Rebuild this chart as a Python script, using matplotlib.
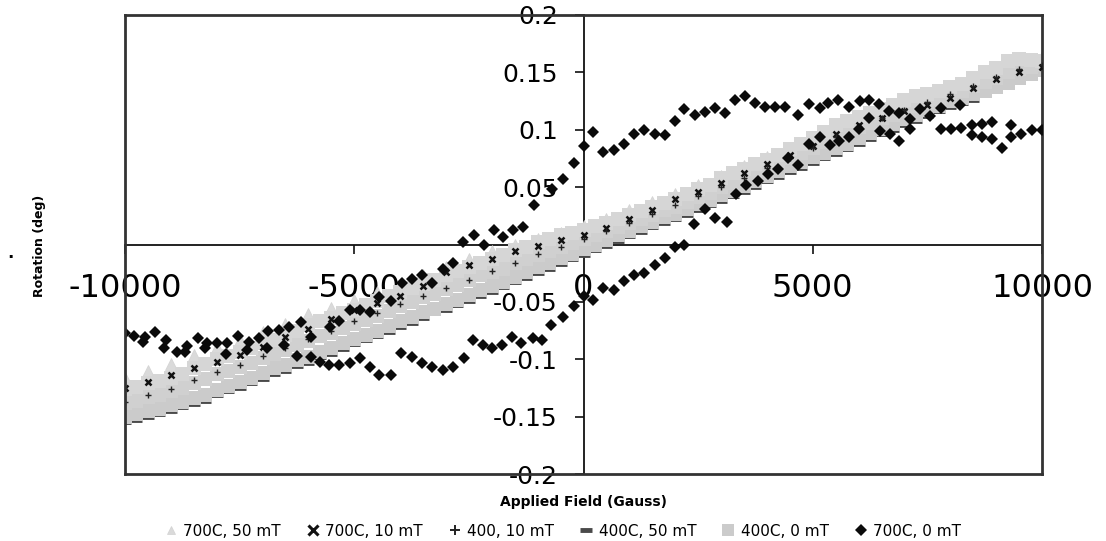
import numpy as np
import matplotlib
matplotlib.use("Agg")
import matplotlib.pyplot as plt
from matplotlib.lines import Line2D

plt.rcParams['font.family'] = ['DejaVu Sans']

# ---------------- data ----------------
field_250 = np.arange(-10000, 10001, 250)   # field sweep, 250 G steps
field_500 = np.arange(-10000, 10001, 500)   # field sweep, 500 G steps

# 400C, 0 mT (light gray squares) - three sweeps
sq_upper = [-0.126, -0.124, -0.121, -0.119, -0.116, -0.113, -0.108, -0.104, -0.100, -0.097,
            -0.094, -0.090, -0.086, -0.083, -0.079, -0.075, -0.070, -0.067, -0.064, -0.060,
            -0.057, -0.053, -0.049, -0.045, -0.041, -0.038, -0.034, -0.031, -0.027, -0.023,
            -0.020, -0.016, -0.013, -0.009, -0.005, -0.002, 0.002, 0.005, 0.008, 0.010,
            0.013, 0.016, 0.019, 0.022, 0.026, 0.029, 0.033, 0.036, 0.040, 0.044,
            0.048, 0.052, 0.058, 0.062, 0.066, 0.070, 0.074, 0.078, 0.083, 0.088,
            0.093, 0.098, 0.104, 0.108, 0.111, 0.115, 0.118, 0.122, 0.126, 0.129,
            0.131, 0.134, 0.137, 0.140, 0.145, 0.150, 0.154, 0.160, 0.162, 0.161, 0.160]
sq_mid = [-0.138, -0.136, -0.133, -0.131, -0.128, -0.125, -0.121, -0.117, -0.113, -0.110,
          -0.107, -0.103, -0.099, -0.095, -0.092, -0.088, -0.084, -0.080, -0.077, -0.073,
          -0.069, -0.066, -0.062, -0.058, -0.054, -0.050, -0.046, -0.043, -0.039, -0.035,
          -0.031, -0.027, -0.024, -0.021, -0.016, -0.013, -0.009, -0.006, -0.002, 0.001,
          0.005, 0.008, 0.012, 0.015, 0.019, 0.022, 0.026, 0.030, 0.033, 0.037,
          0.041, 0.045, 0.050, 0.054, 0.058, 0.062, 0.067, 0.071, 0.075, 0.080,
          0.084, 0.089, 0.094, 0.098, 0.102, 0.106, 0.110, 0.113, 0.117, 0.121,
          0.124, 0.127, 0.131, 0.134, 0.138, 0.142, 0.145, 0.150, 0.153, 0.155, 0.156]
sq_lower = [-0.150, -0.148, -0.145, -0.143, -0.140, -0.137, -0.134, -0.131, -0.127, -0.123,
            -0.120, -0.116, -0.112, -0.108, -0.105, -0.101, -0.098, -0.094, -0.090, -0.086,
            -0.082, -0.079, -0.075, -0.071, -0.067, -0.063, -0.059, -0.056, -0.052, -0.048,
            -0.044, -0.040, -0.036, -0.033, -0.028, -0.024, -0.020, -0.016, -0.012, -0.008,
            -0.004, 0.000, 0.004, 0.008, 0.012, 0.016, 0.020, 0.024, 0.027, 0.031,
            0.035, 0.039, 0.043, 0.047, 0.051, 0.055, 0.060, 0.064, 0.068, 0.072,
            0.076, 0.080, 0.084, 0.088, 0.093, 0.097, 0.101, 0.105, 0.109, 0.113,
            0.117, 0.121, 0.125, 0.128, 0.131, 0.134, 0.137, 0.141, 0.145, 0.149, 0.152]

# 400C, 50 mT (dark gray dashes)
dash_vals = [-0.155, -0.153, -0.150, -0.148, -0.145, -0.142, -0.139, -0.136, -0.131, -0.128,
             -0.125, -0.121, -0.117, -0.113, -0.110, -0.106, -0.103, -0.098, -0.095, -0.091,
             -0.087, -0.083, -0.080, -0.076, -0.072, -0.068, -0.064, -0.060, -0.057, -0.053,
             -0.049, -0.045, -0.041, -0.037, -0.033, -0.029, -0.025, -0.021, -0.017, -0.013,
             -0.009, -0.005, -0.001, 0.003, 0.007, 0.011, 0.015, 0.019, 0.022, 0.026,
             0.030, 0.034, 0.038, 0.042, 0.046, 0.050, 0.055, 0.059, 0.063, 0.067,
             0.071, 0.075, 0.079, 0.083, 0.088, 0.092, 0.096, 0.100, 0.104, 0.108,
             0.112, 0.116, 0.120, 0.123, 0.126, 0.130, 0.134, 0.138, 0.142, 0.148, 0.152]

# 700C, 50 mT (light gray triangles)
tri_vals = [-0.116, -0.110, -0.104, -0.096, -0.089, -0.083, -0.076, -0.069, -0.061, -0.055,
            -0.048, -0.041, -0.034, -0.027, -0.020, -0.013, -0.006, 0.000, 0.005, 0.010,
            0.016, 0.022, 0.030, 0.037, 0.044, 0.052, 0.060, 0.068, 0.076, 0.084,
            0.094, 0.104, 0.112, 0.118, 0.125, 0.130, 0.136, 0.146, 0.152, 0.160, 0.163]

# 700C, 10 mT (black x)
x_vals = [-0.125, -0.120, -0.114, -0.108, -0.102, -0.096, -0.089, -0.081, -0.074, -0.065,
          -0.057, -0.051, -0.045, -0.036, -0.024, -0.018, -0.013, -0.006, -0.001, 0.004,
          0.008, 0.014, 0.022, 0.030, 0.040, 0.046, 0.054, 0.062, 0.070, 0.078,
          0.086, 0.096, 0.104, 0.110, 0.116, 0.122, 0.128, 0.136, 0.144, 0.150, 0.155]

# 400, 10 mT (black +)
plus_vals = [-0.137, -0.131, -0.126, -0.118, -0.111, -0.105, -0.097, -0.090, -0.082, -0.075,
             -0.067, -0.060, -0.052, -0.045, -0.038, -0.031, -0.023, -0.016, -0.008, -0.002,
             0.005, 0.012, 0.019, 0.027, 0.034, 0.042, 0.050, 0.058, 0.067, 0.075,
             0.084, 0.094, 0.102, 0.110, 0.117, 0.124, 0.131, 0.138, 0.146, 0.153, 0.156]

# 700C, 0 mT (black diamonds) - hysteresis loop, field / rotation pairs
dia_field = [10000, 9780, 9550, 9320, 9320, 9125, 8920, 8920, 8700, 8685, 8470, 8470, 8240, 8220,
             8005, 7800, 7800, 7565, 7330, 7120, 7120, 6885, 6885, 6670, 6680, 6445, 6460, 6230,
             6230, 6020, 6000, 5790, 5790, 5560, 5575, 5340, 5380, 5150, 5150, 4920, 4920, 4685,
             4685, 4400, 4455, 4185, 4245, 3950, 4030, 3745, 3800, 3530, 3550, 3310, 3335, 3090,
             3120, 2870, 2870, 2655, 2655, 2430, 2410, 2200, 2200, 1985, 1985, 1775, 1775, 1560,
             1560, 1330, 1330, 1110, 1110, 888, 888, 656, 656, 425, 425, 208, 208, 0, 0,
             -216, -216, -448, -448, -693, -718, -902, -1085, -1110, -1320, -1361, -1545, -1570,
             -1754, -1779, -1962, -1987, -2180, -2196, -2388, -2405, -2630, -2614, -2839, -2839,
             -3073, -3073, -3298, -3298, -3532, -3532, -3741, -3741, -3966, -3991, -4200, -4200,
             -4450, -4450, -4660, -4660, -4868, -4868, -5102, -5102, -5327, -5327, -5536, -5553,
             -5745, -5954, -5954, -6162, -6246, -6413, -6538, -6638, -6872, -6900, -7080, -7306,
             -7350, -7540, -7766, -7800, -8000, -8208, -8250, -8417, -8650, -8700, -8876, -9110,
             -9150, -9335, -9560, -9600, -9795, -10000]
dia_rot = [0.100, 0.100, 0.0965, 0.104, 0.094, 0.084, 0.107, 0.092, 0.105, 0.094, 0.104, 0.0956, 0.1015, 0.122,
           0.1006, 0.1006, 0.119, 0.112, 0.118, 0.109, 0.101, 0.1146, 0.090, 0.116, 0.096, 0.1225, 0.0985, 0.126,
           0.110, 0.125, 0.1006, 0.1195, 0.094, 0.1257, 0.090, 0.123, 0.087, 0.119, 0.0936, 0.1225, 0.0875, 0.1125,
           0.069, 0.120, 0.075, 0.120, 0.0656, 0.120, 0.0615, 0.123, 0.055, 0.129, 0.052, 0.1257, 0.044, 0.115,
           0.020, 0.119, 0.023, 0.1155, 0.031, 0.1125, 0.018, 0.118, 0.000, 0.108, -0.002, 0.095, -0.0116, 0.0965,
           -0.018, 0.100, -0.025, 0.096, -0.0266, 0.088, -0.032, 0.082, -0.040, 0.081, -0.038, 0.098, -0.048, 0.086, -0.045,
           0.071, -0.054, 0.057, -0.0636, 0.0486, -0.070, -0.0832, 0.034, -0.0817, 0.0153, -0.0861, 0.013, -0.0803,
           0.0067, -0.0875, 0.013, -0.0904, -0.0006, -0.0875, 0.0087, -0.0832, 0.0023, -0.0991, -0.0165, -0.1064,
           -0.0217, -0.1093, -0.0333, -0.1064, -0.0267, -0.1029, -0.0304, -0.0983, -0.0339, -0.0942, -0.049, -0.1136,
           -0.0455, -0.1136, -0.0586, -0.1064, -0.0571, -0.099, -0.0571, -0.1035, -0.0664, -0.105, -0.0716, -0.105,
           -0.102, -0.0803, -0.0977, -0.0672, -0.0971, -0.0722, -0.0875, -0.0745, -0.0751, -0.090, -0.0817, -0.0846,
           -0.092, -0.0797, -0.0855, -0.095, -0.0861, -0.0855, -0.090, -0.0817, -0.0884, -0.094, -0.0933, -0.0832,
           -0.090, -0.0765, -0.0803, -0.085, -0.0797, -0.0768]

x_ticks = [-10000, -5000, 0, 5000, 10000]
x_ticklabels = ['-10000', '-5000', '0', '5000', '10000']
y_ticks = [-0.2, -0.15, -0.1, -0.05, 0, 0.05, 0.1, 0.15, 0.2]
y_ticklabels = ['-0.2', '-0.15', '-0.1', '-0.05', '0', '0.05', '0.1', '0.15', '0.2']

# ---------------- figure ----------------
W, H = 1106, 541
fig = plt.figure(figsize=(W / 100, H / 100), dpi=100)
ax = fig.add_axes([125 / W, 1 - 474 / H, (1042 - 125) / W, (474 - 15) / H])
ax.set_axisbelow(True)

ax.plot(field_500, tri_vals, ls='none', marker='^', ms=8, mfc='#dadada', mec='#d2d2d2', mew=0.5,
        label='700C, 50 mT', zorder=2)
ax.plot(field_500, x_vals, ls='none', marker='x', ms=5, mec='#111111', mew=1.8,
        label='700C, 10 mT', zorder=2.6)
ax.plot(field_500, plus_vals, ls='none', marker='+', ms=4, mec='#222222', mew=1.0,
        label='400, 10 mT', zorder=2.6)
ax.plot(field_250, dash_vals, ls='none', marker='_', ms=9, mec='#4a4a4a', mew=3.5,
        label='400C, 50 mT', zorder=2)
ax.plot(field_250, sq_lower, ls='none', marker='s', ms=10.5, mfc='#cbcbcb', mec='#cbcbcb', mew=0,
        label='400C, 0 mT', zorder=2)
ax.plot(field_250, sq_mid, ls='none', marker='s', ms=10.5, mfc='#d0d0d0', mec='#d0d0d0', mew=0,
        zorder=2)
ax.plot(field_250, sq_upper, ls='none', marker='s', ms=10.5, mfc='#d6d6d6', mec='#d6d6d6', mew=0,
        zorder=2)
ax.plot(dia_field, dia_rot, ls='none', marker='D', ms=6, mfc='#0a0a0a', mec='#0a0a0a', mew=0,
        label='700C, 0 mT', zorder=3)

ax.set_xlim(-10000, 10000)
ax.set_ylim(-0.2, 0.2)

# axes crossing at zero
ax.spines['left'].set_position(('data', 0))
ax.spines['bottom'].set_position(('data', 0))
for s in ('left', 'bottom'):
    ax.spines[s].set_linewidth(1.3)
    ax.spines[s].set_color('#111111')
    ax.spines[s].set_zorder(0.6)
for s in ('top', 'right'):
    ax.spines[s].set_linewidth(2.0)
    ax.spines[s].set_color('#333333')
# outer frame left/bottom
ax.add_line(Line2D([0, 0], [0, 1], transform=ax.transAxes, color='#333333', lw=2.0, clip_on=False, zorder=4))
ax.add_line(Line2D([0, 1], [0, 0], transform=ax.transAxes, color='#333333', lw=2.0, clip_on=False, zorder=4))

ax.set_xticks(x_ticks)
ax.set_xticklabels(x_ticklabels)
ax.set_yticks(y_ticks)
ax.set_yticklabels(y_ticklabels)
ax.tick_params(axis='x', direction='out', length=6.5, width=1.2, pad=14, labelsize=23, color='#111111')
ax.tick_params(axis='y', direction='out', length=6.5, width=1.2, pad=12, labelsize=18, color='#111111')

fig.text(40 / W, 1 - 246 / H, 'Rotation (deg)', rotation=90, ha='center', va='center',
         fontsize=9, fontweight='bold')
fig.text(10 / W, 1 - 262 / H, '.', ha='center', va='bottom', fontsize=12, fontweight='bold')
fig.text(583 / W, 1 - 502 / H, 'Applied Field (Gauss)', ha='center', va='center',
         fontsize=10, fontweight='bold')

handles, labels = ax.get_legend_handles_labels()
leg = fig.legend(handles, labels, loc='center', bbox_to_anchor=(563 / W, 1 - 531 / H), ncol=6,
                 frameon=False, fontsize=11, handlelength=0.8, handletextpad=0.4, columnspacing=1.7,
                 borderpad=0, borderaxespad=0)
lh = leg.legend_handles
lh[0].set_markersize(6)
lh[1].set_markersize(6.5)
lh[1].set_markeredgewidth(2.2)
lh[2].set_markersize(7)
lh[2].set_markeredgewidth(1.4)
lh[4].set_markersize(9)
lh[5].set_markersize(6)

fig.savefig('out.png', dpi=100)
